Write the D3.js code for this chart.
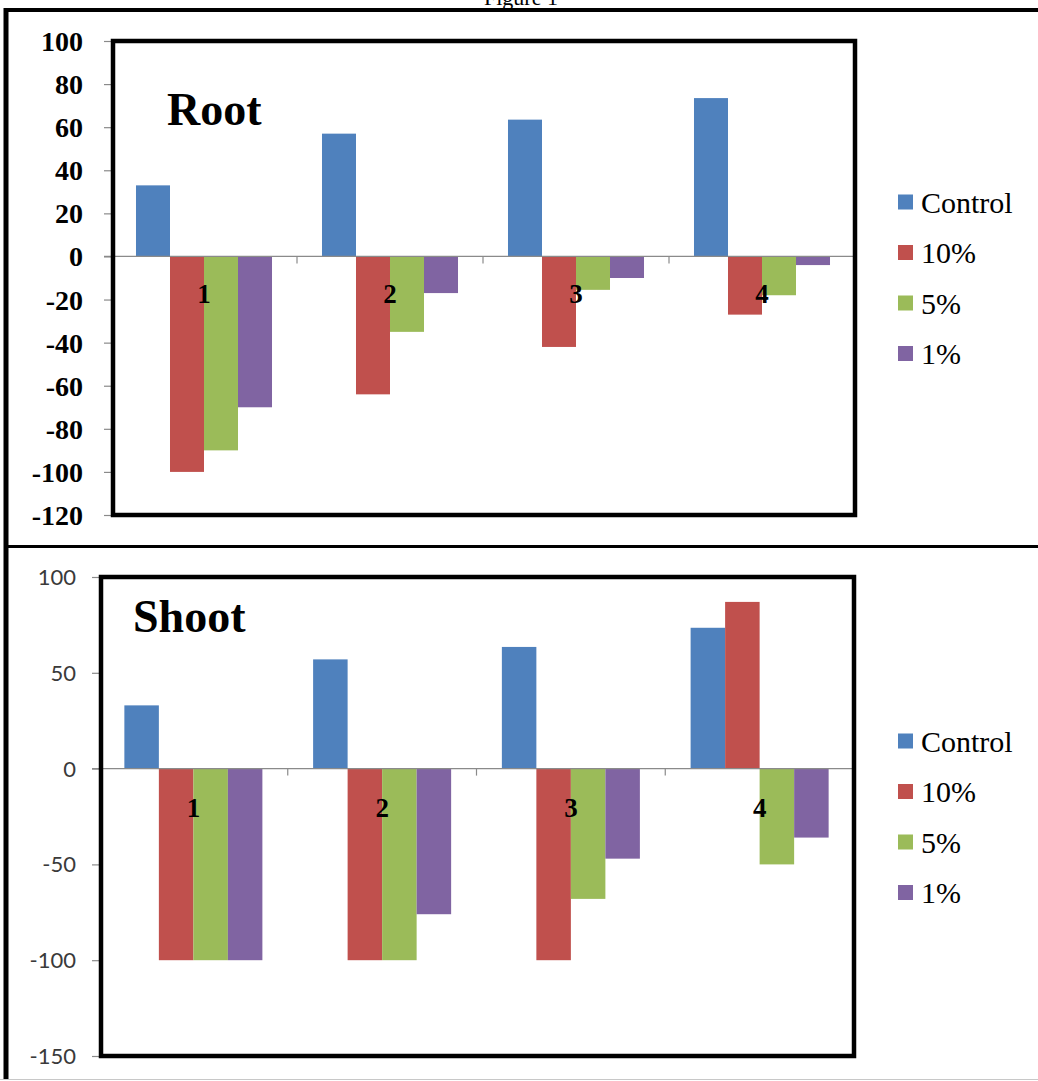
<!DOCTYPE html>
<html>
<head>
<meta charset="utf-8">
<script src="https://cdn.jsdelivr.net/npm/d3@7"></script>
<style>
  body { margin: 0; background: #fff; }
  svg { display: block; }
</style>
</head>
<body>
<svg id="fig" width="1038" height="1081"></svg>
<script>
// Groups along the x axis and the four treatments
const categories = ["1", "2", "3", "4"];
const seriesNames = ["Control", "10%", "5%", "1%"];
const seriesColors = ["#4F81BD", "#C0504D", "#9BBB59", "#8064A2"];

// Root panel values
const rootControl = [33, 57, 63.5, 73.5];
const root10 = [-100, -64, -42, -27];
const root5 = [-90, -35, -15.5, -18];
const root1 = [-70, -17, -10, -4];
const rootTicks = [100, 80, 60, 40, 20, 0, -20, -40, -60, -80, -100, -120];

// Shoot panel values
const shootControl = [33, 57, 63.5, 73.5];
const shoot10 = [-100, -100, -100, 87];
const shoot5 = [-100, -100, -68, -50];
const shoot1 = [-100, -76, -47, -36];
const shootTicks = [100, 50, 0, -50, -100, -150];

const serif = "'Liberation Serif', 'Times New Roman', serif";

const svg = d3.select("#fig");
svg.append("rect").attr("width", 1038).attr("height", 1081).attr("fill", "#fff");

// Figure caption (sits mostly above the page edge)
svg.append("text")
  .attr("x", 521).attr("y", 5)
  .attr("text-anchor", "middle")
  .attr("font-family", serif)
  .attr("font-size", 22)
  .attr("fill", "#000")
  .text("Figure 1");

// Outer figure frame and panel divider
const frame = svg.append("g").attr("stroke", "#000").attr("fill", "none");
frame.append("line").attr("x1", 4).attr("x2", 1038).attr("y1", 10).attr("y2", 10).attr("stroke-width", 4);
frame.append("line").attr("x1", 6).attr("x2", 6).attr("y1", 8).attr("y2", 1079).attr("stroke-width", 5);
frame.append("line").attr("x1", 4).attr("x2", 1038).attr("y1", 546.5).attr("y2", 546.5).attr("stroke-width", 3);
svg.append("line").attr("x1", 0).attr("x2", 1038).attr("y1", 1079.5).attr("y2", 1079.5)
  .attr("stroke", "#c8c8c8").attr("stroke-width", 1);

function drawPanel(cfg) {
  const g = svg.append("g");
  const values = cfg.series;

  const x0 = d3.scaleBand().domain(categories).range([cfg.left, cfg.right]).paddingInner(0).paddingOuter(0);
  const x1 = d3.scaleBand().domain(seriesNames).range([0, x0.bandwidth()]).paddingInner(0).paddingOuter(0.735);
  const y = d3.scaleLinear().domain([cfg.min, cfg.max]).range([cfg.bottom, cfg.top]);

  // Bars
  seriesNames.forEach((s, si) => {
    g.append("g").attr("fill", seriesColors[si])
      .selectAll("rect")
      .data(categories.map((c, ci) => ({ c, v: values[si][ci] })))
      .join("rect")
      .attr("x", d => x0(d.c) + x1(s))
      .attr("width", x1.bandwidth())
      .attr("y", d => y(Math.max(0, d.v)))
      .attr("height", d => Math.abs(y(d.v) - y(0)));
  });

  // Horizontal zero axis with category tick marks
  const zeroY = y(0);
  g.append("line")
    .attr("x1", cfg.left - 7).attr("x2", cfg.right + 2)
    .attr("y1", zeroY).attr("y2", zeroY)
    .attr("stroke", "#8a8a8a").attr("stroke-width", 1.2);
  const bounds = categories.map(c => x0(c)).concat([cfg.right]);
  g.append("g").selectAll("line").data(bounds.slice(1)).join("line")
    .attr("x1", d => d).attr("x2", d => d)
    .attr("y1", zeroY).attr("y2", zeroY + 7)
    .attr("stroke", "#8a8a8a").attr("stroke-width", 1.2);

  // Category labels just below the zero line
  g.append("g").selectAll("text").data(categories).join("text")
    .attr("x", d => x0(d) + x0.bandwidth() / 2)
    .attr("y", zeroY + cfg.catOffset)
    .attr("text-anchor", "middle")
    .attr("font-family", serif)
    .attr("font-weight", "bold")
    .attr("font-size", 27)
    .attr("fill", "#000")
    .text(d => d);

  // Y axis (plain hyphen for negative numbers)
  const yAxis = d3.axisLeft(y).tickValues(cfg.ticks).tickSize(7).tickSizeOuter(0).tickPadding(cfg.tickPad)
    .tickFormat(d => String(d));
  const ax = g.append("g").attr("transform", `translate(${cfg.left},0)`).call(yAxis);
  ax.select(".domain").remove();
  ax.selectAll(".tick line").attr("stroke", "#8a8a8a").attr("stroke-width", 1.2);
  ax.selectAll(".tick text")
    .attr("font-family", cfg.tickFont)
    .attr("font-weight", cfg.tickWeight)
    .attr("font-size", cfg.tickSize)
    .attr("fill", cfg.tickColor)
    .attr("dy", "0.34em");

  // Plot-area frame
  g.append("rect")
    .attr("x", cfg.left + 2).attr("y", cfg.top)
    .attr("width", cfg.right - cfg.left - 2).attr("height", cfg.bottom - cfg.top)
    .attr("fill", "none").attr("stroke", "#000").attr("stroke-width", 4.5);

  // Panel title
  g.append("text")
    .attr("x", cfg.titleX).attr("y", cfg.titleY)
    .attr("font-family", serif)
    .attr("font-weight", "bold")
    .attr("font-size", 46)
    .attr("fill", "#000")
    .text(cfg.title);

  // Legend
  const lg = g.append("g");
  seriesNames.forEach((s, si) => {
    const cy = cfg.legendY + si * 50.5;
    lg.append("rect").attr("x", 898).attr("y", cy - 7.5).attr("width", 15).attr("height", 15)
      .attr("fill", seriesColors[si]);
    lg.append("text").attr("x", 921).attr("y", cy).attr("dy", "0.35em")
      .attr("font-family", serif)
      .attr("font-size", 30)
      .attr("fill", "#000")
      .text(s);
  });
}

drawPanel({
  title: "Root", titleX: 167, titleY: 125,
  series: [rootControl, root10, root5, root1],
  ticks: rootTicks, min: -120, max: 100,
  left: 111, right: 855, top: 41, bottom: 515,
  tickPad: 21, tickFont: serif,
  tickWeight: "bold", tickSize: 28, tickColor: "#000",
  catOffset: 47, legendY: 202
});

drawPanel({
  title: "Shoot", titleX: 133, titleY: 632,
  series: [shootControl, shoot10, shoot5, shoot1],
  ticks: shootTicks, min: -150, max: 100,
  left: 99, right: 854, top: 577, bottom: 1056,
  tickPad: 16, tickFont: "Lato, 'Open Sans', sans-serif",
  tickWeight: "normal", tickSize: 22, tickColor: "#3a3a3a",
  catOffset: 48, legendY: 741
});
</script>
</body>
</html>
